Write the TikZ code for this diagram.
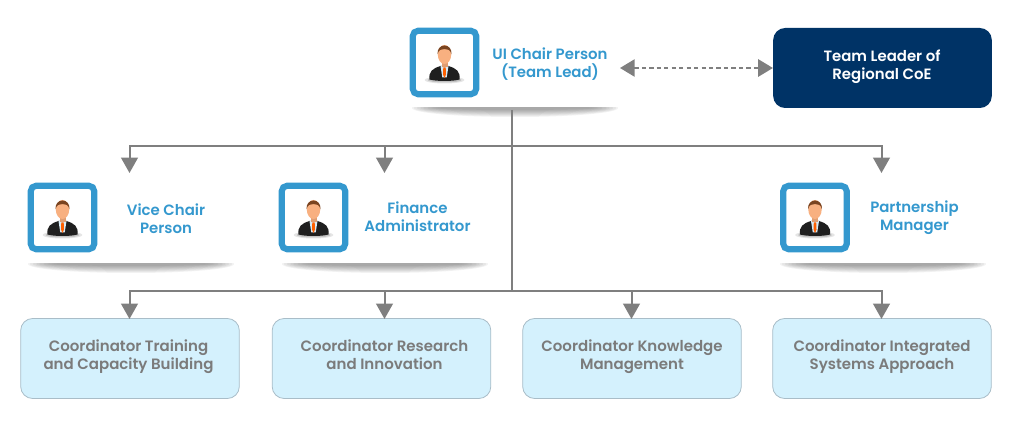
\documentclass[tikz,border=0pt]{standalone}
\usepackage{fontspec}
\setmainfont{Poppins SemiBold}
\usetikzlibrary{arrows.meta}
\definecolor{linegray}{HTML}{7F7F7F}
\definecolor{ublue}{HTML}{3498CE}
\definecolor{navy}{HTML}{003366}
\definecolor{paleblue}{HTML}{D4F1FD}
\definecolor{paleedge}{HTML}{A9BDC8}
\definecolor{greytxt}{HTML}{7B7B7B}
\definecolor{skin}{HTML}{F8B080}
\definecolor{hair}{HTML}{7A4420}
\tikzset{
 avatarbox/.style={draw=ublue,line width=4.6pt,fill=white,rounded corners=4pt,minimum size=47.6pt,inner sep=0pt},
 namelabel/.style={text=ublue,font=\fontsize{11.2pt}{13.6pt}\selectfont,align=center,inner sep=0pt},
 navybox/.style={fill=navy,rounded corners=9pt,minimum width=164pt,minimum height=60pt,inner sep=0pt},
 navytext/.style={text=white,font=\fontsize{11.2pt}{13.6pt}\selectfont,align=center,inner sep=0pt},
 coordbox/.style={draw=paleedge,line width=.6pt,fill=paleblue,rounded corners=9pt,minimum width=164pt,minimum height=60pt,inner sep=0pt},
 coordtext/.style={text=greytxt,font=\fontsize{11.25pt}{13.6pt}\selectfont,align=center,inner sep=0pt},
 link/.style={draw=linegray,line width=1.5pt},
 droparrow/.style={link,-{Triangle[length=11.5pt,width=12.5pt]}},
 dasharrow/.style={draw=linegray,line width=1.1pt,dash pattern=on 3.2pt off 2.4pt,{Triangle[length=11pt,width=13pt]}-{Triangle[length=11pt,width=13pt]}},
 person/.pic={
  \fill[black,opacity=.10] (0,17.5) ellipse (20 and 3.5);
  \fill[black,opacity=.15] (0,17.5) ellipse (17 and 2.5);
  \fill[black!88] (-15,17) .. controls (-16,9) and (-12,6) .. (-4,3.5) -- (4,3.5) .. controls (12,6) and (16,9) .. (15,17) .. controls (8,19) and (-8,19) .. (-15,17) -- cycle;
  \fill[white!80!ublue] (-4,3.5) -- (4,3.5) -- (2.2,15) -- (-2.2,15) -- cycle;
  \fill[orange!75!red] (-1.2,5) -- (1.2,5) -- (1.5,12) -- (0,15.5) -- (-1.5,12) -- cycle;
  \fill[skin!90!black] (-3,-2) rectangle (3,5);
  \fill[skin] (0,-8) ellipse (6.7 and 9.5);
  \fill[hair] (-7,-8) .. controls (-8,-20) and (8,-20) .. (7,-8) .. controls (6,-13) and (3,-13.5) .. (0,-13.5) .. controls (-3,-13.5) and (-6,-13) .. (-7,-8) -- cycle;
 },
}
\newcommand{\bandshadow}[2]{% centre x, top y
 \begin{scope}
  \clip (#1-110,#2) rectangle (#1+110,#2+12);
  \foreach \w/\h in {103/9,101/8,98/7,95/6,92/5,88/4,84/3,80/2}
   \fill[black,opacity=.05] (#1,#2) ellipse (\w pt*.75 and \h pt*.75);
 \end{scope}}
\begin{document}
\begin{tikzpicture}[x=.75pt,y=-.75pt]
\useasboundingbox (0,0) rectangle (1024,427);
\bandshadow{515}{108}
\bandshadow{131}{264}
\bandshadow{385}{264}
\bandshadow{883}{264}

\node[avatarbox] (lead) at (444.5,62.5) {};
\pic at (lead) {person};
\node[namelabel] (leadname) at (550,64) {UI Chair Person\\(Team Lead)};
\node[navybox] (coe) at (882.5,68) {};
\node[navytext] (coetext) at (882,67) {Team Leader of\\Regional CoE};

\node[avatarbox] (vice) at (62.5,217.5) {};
\pic at (vice) {person};
\node[namelabel] (vicename) at (166,219) {Vice Chair\\Person};
\node[avatarbox] (fin) at (313.5,217.5) {};
\pic at (fin) {person};
\node[namelabel] (finname) at (417.5,216.5) {Finance\\Administrator};
\node[avatarbox] (part) at (815,217.5) {};
\pic at (part) {person};
\node[namelabel] (partname) at (914.5,217.5) {Partnership\\Manager};

\node[coordbox] (c1) at (130,358.5) {};
\node[coordtext] (c1text) at (128.5,356.5) {Coordinator Training\\and Capacity Building};
\node[coordbox] (c2) at (381.5,358.5) {};
\node[coordtext] (c2text) at (384.5,354.5) {Coordinator Research\\and Innovation};
\node[coordbox] (c3) at (632,358.5) {};
\node[coordtext] (c3text) at (632,356.5) {Coordinator Knowledge\\Management};
\node[coordbox] (c4) at (882,358.5) {};
\node[coordtext] (c4text) at (882,356.5) {Coordinator Integrated\\Systems Approach};

\coordinate (top) at (512,110);
\coordinate (bot) at (512,291);
\coordinate (upper) at (512,146);
\coordinate (d1) at (129.5,173);
\coordinate (d2) at (384.5,173);
\coordinate (d3) at (881.5,173);
\coordinate (e1) at (129.5,319);
\coordinate (e2) at (384.5,319);
\coordinate (e3) at (631.5,319);
\coordinate (e4) at (881.5,319);
\coordinate (dashl) at (620,68);

\draw[link] (top) -- (bot);
\draw[droparrow] (upper) -| (d1);
\draw[droparrow] (upper) -| (d2);
\draw[droparrow] (upper) -| (d3);
\draw[droparrow] (bot) -| (e1);
\draw[droparrow] (bot) -| (e2);
\draw[droparrow] (bot) -| (e3);
\draw[droparrow] (bot) -| (e4);
\draw[dasharrow] (dashl) -- (coe.west);
\end{tikzpicture}
\end{document}
